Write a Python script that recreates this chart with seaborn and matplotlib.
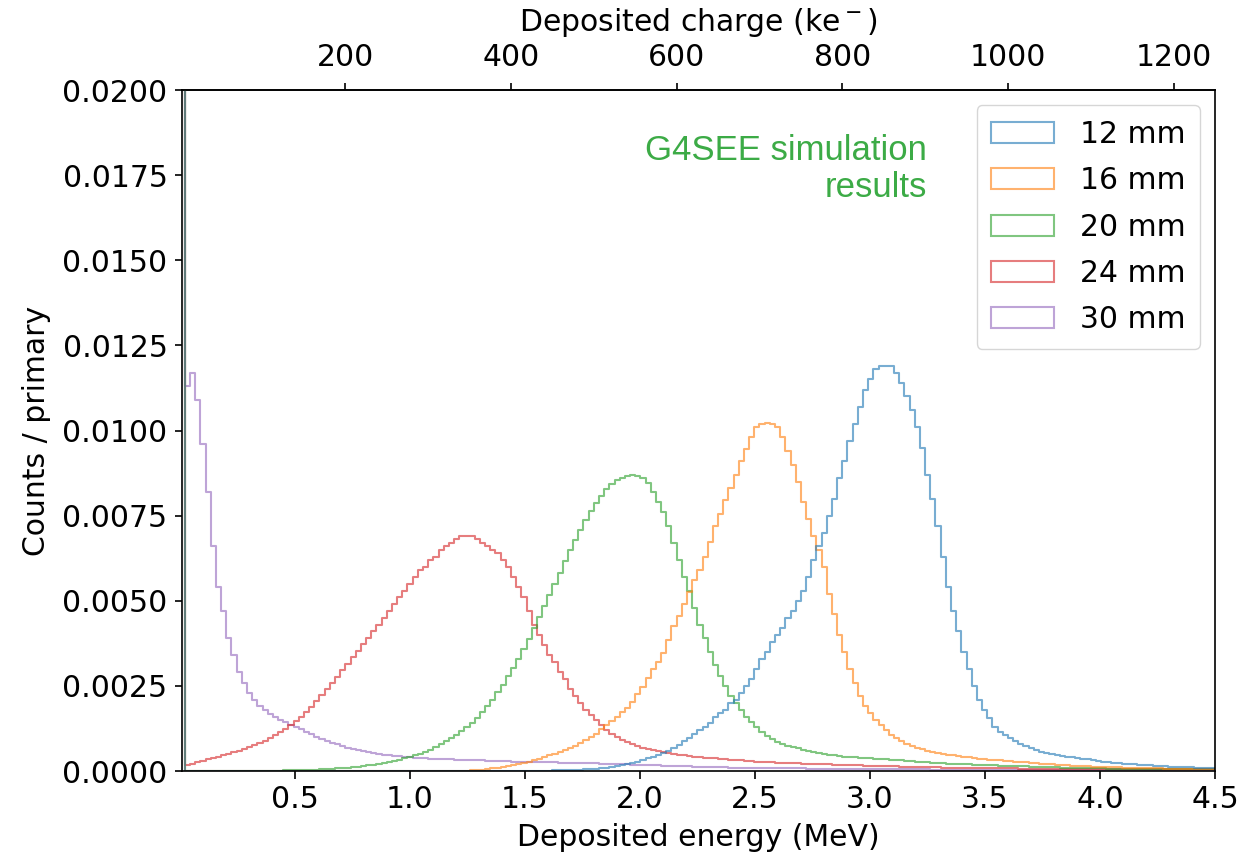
import numpy as np
import pandas as pd
import matplotlib
matplotlib.use("Agg")
import matplotlib.pyplot as plt
import seaborn as sns
from matplotlib.patches import Patch

# ---------------- data (counts / primary per 0.0225 MeV bin, 0 - 4.5 MeV) ----------------
thickness_labels = ["12 mm", "16 mm", "20 mm", "24 mm", "30 mm"]
energy_min_mev = 0.0
energy_max_mev = 4.5
n_bins = 200
charge_ticks_ke = [200, 400, 600, 800, 1000, 1200]

counts_12mm = [
    0.022, 0, 0, 0, 0, 0, 0, 0, 0, 0,
    0, 0, 0, 0, 0, 0, 0, 0, 0, 0,
    0, 0, 0, 0, 0, 0, 0, 0, 0, 0,
    0, 0, 0, 0, 0, 0, 0, 0, 0, 0,
    0, 0, 0, 0, 0, 0, 0, 0, 0, 0,
    0, 0, 0, 0, 0, 0, 0, 0, 0, 0,
    0, 0, 0, 0, 0, 0, 0, 0, 0, 0,
    0.00001, 0.00001, 0.00002, 0.00002, 0.00003, 0.00003, 0.00004, 0.00004, 0.00005, 0.00006,
    0.00007, 0.00009, 0.0001, 0.00012, 0.00015, 0.00017, 0.0002, 0.00024, 0.00028, 0.00033,
    0.00038, 0.00042, 0.00047, 0.00053, 0.0006, 0.00068, 0.00077, 0.00087, 0.00097, 0.00108,
    0.0012, 0.0013, 0.0014, 0.0016, 0.0017, 0.0018, 0.002, 0.0021, 0.0023, 0.0025,
    0.0027, 0.003, 0.0033, 0.0035, 0.0038, 0.004, 0.0042, 0.0045, 0.0047, 0.005,
    0.0053, 0.0057, 0.0062, 0.0066, 0.007, 0.0075, 0.008, 0.0086, 0.0091, 0.0097,
    0.0102, 0.0107, 0.0112, 0.0115, 0.0118, 0.0119, 0.0119, 0.0119, 0.0117, 0.0114,
    0.011, 0.0106, 0.0101, 0.0095, 0.0087, 0.008, 0.0072, 0.0063, 0.0054, 0.0047,
    0.0041, 0.0035, 0.003, 0.0025, 0.0021, 0.0018, 0.00155, 0.0013, 0.00116, 0.00105,
    0.00096, 0.00088, 0.0008, 0.00073, 0.00067, 0.00062, 0.00057, 0.00053, 0.0005, 0.00047,
    0.00044, 0.00042, 0.0004, 0.00038, 0.00036, 0.00034, 0.00032, 0.0003, 0.00028, 0.00027,
    0.00025, 0.00024, 0.00022, 0.00021, 0.0002, 0.00019, 0.00018, 0.00017, 0.00016, 0.00015,
    0.00014, 0.00013, 0.00013, 0.00012, 0.00011, 0.00011, 0.0001, 0.0001, 0.00009, 0.00009,
]

counts_16mm = [
    0.03, 0, 0, 0, 0, 0, 0, 0, 0, 0,
    0, 0, 0, 0, 0, 0, 0, 0, 0, 0,
    0, 0, 0, 0, 0, 0, 0, 0, 0, 0,
    0, 0, 0, 0, 0, 0, 0, 0, 0, 0,
    0, 0, 0, 0, 0, 0, 0, 0, 0, 0,
    0, 0, 0, 0, 0, 0.00001, 0.00002, 0.00003, 0.00004, 0.00006,
    0.00008, 0.0001, 0.00012, 0.00015, 0.00018, 0.00021, 0.00024, 0.00028, 0.00032, 0.00036,
    0.00041, 0.00046, 0.00051, 0.00056, 0.00062, 0.00068, 0.00075, 0.00083, 0.00091, 0.001,
    0.0011, 0.00122, 0.00134, 0.00147, 0.0016, 0.00172, 0.00186, 0.00203, 0.00225, 0.00248,
    0.00272, 0.003, 0.0032, 0.00348, 0.00385, 0.00425, 0.00455, 0.0049, 0.00525, 0.00562,
    0.0059, 0.0063, 0.00674, 0.0072, 0.00755, 0.00795, 0.0083, 0.0087, 0.0091, 0.00945,
    0.0098, 0.0101, 0.0102, 0.01023, 0.0102, 0.0101, 0.0098, 0.0094, 0.009, 0.0085,
    0.0079, 0.0074, 0.0069, 0.0065, 0.006, 0.0052, 0.0046, 0.004, 0.0035, 0.003,
    0.0026, 0.0022, 0.0019, 0.0017, 0.0015, 0.00135, 0.0012, 0.00107, 0.00096, 0.00087,
    0.0008, 0.00074, 0.00068, 0.00064, 0.0006, 0.00057, 0.00054, 0.00051, 0.00048, 0.00046,
    0.00044, 0.00042, 0.0004, 0.00038, 0.00036, 0.00035, 0.00033, 0.00032, 0.00031, 0.0003,
    0.00029, 0.00028, 0.00027, 0.00026, 0.00024, 0.00023, 0.00022, 0.00021, 0.0002, 0.00019,
    0.00018, 0.00017, 0.00016, 0.00015, 0.00015, 0.00014, 0.00013, 0.00013, 0.00012, 0.00012,
    0.00011, 0.00011, 0.0001, 0.0001, 0.0001, 0.00009, 0.00009, 0.00008, 0.00008, 0.00008,
    0.00007, 0.00007, 0.00007, 0.00006, 0.00006, 0.00006, 0.00006, 0.00005, 0.00005, 0.00005,
]

counts_20mm = [
    0.025, 0, 0, 0, 0, 0, 0, 0, 0, 0,
    0, 0, 0, 0, 0, 0, 0, 0.00001, 0.00001, 0.00001,
    0.00002, 0.00002, 0.00002, 0.00003, 0.00003, 0.00004, 0.00004, 0.00005, 0.00006, 0.00007,
    0.00008, 0.00009, 0.0001, 0.00012, 0.00013, 0.00015, 0.00017, 0.00019, 0.00021, 0.00024,
    0.00027, 0.0003, 0.00033, 0.00037, 0.00041, 0.00046, 0.00051, 0.00057, 0.00063, 0.0007,
    0.00078, 0.00087, 0.00096, 0.00106, 0.00117, 0.00129, 0.00142, 0.00157, 0.00173, 0.00191,
    0.0021, 0.00231, 0.00254, 0.00278, 0.00303, 0.0033, 0.00358, 0.00388, 0.00419, 0.00451,
    0.00484, 0.00517, 0.0055, 0.00583, 0.00616, 0.00648, 0.00679, 0.00709, 0.00737, 0.00763,
    0.00787, 0.00808, 0.00827, 0.00843, 0.00855, 0.00862, 0.00866, 0.00868, 0.00866, 0.0086,
    0.00845, 0.0082, 0.0079, 0.0076, 0.0072, 0.0067, 0.0062, 0.0057, 0.0053, 0.0048,
    0.0043, 0.0039, 0.0035, 0.0031, 0.0028, 0.0025, 0.0022, 0.002, 0.0018, 0.0016,
    0.00145, 0.0013, 0.00115, 0.00102, 0.00093, 0.00086, 0.0008, 0.00075, 0.00071, 0.00067,
    0.00062, 0.00059, 0.00056, 0.00053, 0.0005, 0.00048, 0.00046, 0.00043, 0.00042, 0.00041,
    0.0004, 0.00039, 0.00038, 0.00037, 0.00036, 0.00035, 0.00034, 0.00033, 0.00032, 0.00031,
    0.0003, 0.00029, 0.00028, 0.00027, 0.00026, 0.00025, 0.00024, 0.00023, 0.00022, 0.00021,
    0.00021, 0.0002, 0.0002, 0.00019, 0.00018, 0.00018, 0.00017, 0.00017, 0.00016, 0.00016,
    0.00015, 0.00015, 0.00014, 0.00014, 0.00013, 0.00013, 0.00012, 0.00012, 0.00011, 0.00011,
    0.0001, 0.0001, 0.0001, 0.00009, 0.00009, 0.00009, 0.00008, 0.00008, 0.00008, 0.00007,
    0.00007, 0.00007, 0.00007, 0.00007, 0.00006, 0.00006, 0.00006, 0.00006, 0.00006, 0.00006,
    0.00006, 0.00005, 0.00005, 0.00005, 0.00005, 0.00005, 0.00005, 0.00005, 0.00005, 0.00005,
]

counts_24mm = [
    0.035, 0.00018, 0.00022, 0.00026, 0.0003, 0.00034, 0.00038, 0.00042, 0.00046, 0.0005,
    0.00055, 0.0006, 0.00065, 0.0007, 0.00076, 0.00082, 0.00089, 0.00097, 0.00105, 0.00114,
    0.00124, 0.00135, 0.00147, 0.0016, 0.00174, 0.00189, 0.00205, 0.00222, 0.0024, 0.00258,
    0.00277, 0.00296, 0.00315, 0.00334, 0.00353, 0.00372, 0.0039, 0.0041, 0.0043, 0.0045,
    0.0047, 0.0049, 0.0051, 0.0053, 0.0055, 0.0057, 0.0059, 0.006, 0.0062, 0.0063,
    0.0065, 0.0066, 0.0067, 0.0068, 0.0069, 0.0069, 0.0069, 0.0068, 0.0067, 0.0066,
    0.0065, 0.0064, 0.0062, 0.006, 0.0057, 0.0054, 0.0051, 0.0047, 0.0043, 0.004,
    0.0037, 0.0034, 0.0032, 0.0029, 0.0027, 0.0024, 0.0022, 0.002, 0.0018, 0.00165,
    0.0015, 0.00135, 0.0012, 0.0011, 0.001, 0.00092, 0.00085, 0.00079, 0.00074, 0.00069,
    0.00065, 0.00061, 0.00058, 0.00055, 0.00052, 0.0005, 0.00048, 0.00046, 0.00044, 0.00042,
    0.00041, 0.00039, 0.00038, 0.00037, 0.00036, 0.00034, 0.00033, 0.00032, 0.00031, 0.0003,
    0.00029, 0.00028, 0.00027, 0.00027, 0.00026, 0.00025, 0.00025, 0.00024, 0.00023, 0.00023,
    0.00022, 0.00022, 0.00021, 0.00021, 0.0002, 0.0002, 0.00019, 0.00019, 0.00018, 0.00018,
    0.00017, 0.00017, 0.00016, 0.00016, 0.00015, 0.00015, 0.00014, 0.00014, 0.00014, 0.00013,
    0.00013, 0.00012, 0.00012, 0.00012, 0.00011, 0.00011, 0.00011, 0.0001, 0.0001, 0.0001,
    0.0001, 0.00009, 0.00009, 0.00009, 0.00009, 0.00009, 0.00008, 0.00008, 0.00008, 0.00008,
    0.00008, 0.00008, 0.00007, 0.00007, 0.00007, 0.00007, 0.00007, 0.00007, 0.00007, 0.00007,
    0.00007, 0.00006, 0.00006, 0.00006, 0.00006, 0.00006, 0.00006, 0.00006, 0.00006, 0.00006,
    0.00006, 0.00006, 0.00006, 0.00006, 0.00006, 0.00005, 0.00005, 0.00005, 0.00005, 0.00005,
    0.00005, 0.00005, 0.00005, 0.00005, 0.00005, 0.00005, 0.00005, 0.00005, 0.00005, 0.00005,
]

counts_30mm = [
    0.05, 0.0113, 0.0117, 0.0109, 0.0096, 0.0082, 0.0066, 0.0054, 0.0047, 0.0039,
    0.0034, 0.0029, 0.0026, 0.0023, 0.0021, 0.0019, 0.00178, 0.00167, 0.00158, 0.0015,
    0.00143, 0.00136, 0.00129, 0.00122, 0.00115, 0.00108, 0.00101, 0.00095, 0.00089, 0.00083,
    0.00078, 0.00073, 0.00069, 0.00065, 0.00061, 0.00058, 0.00055, 0.00052, 0.0005, 0.00048,
    0.00046, 0.00044, 0.00043, 0.00042, 0.0004, 0.00039, 0.00038, 0.00037, 0.00036, 0.00035,
    0.00035, 0.00034, 0.00034, 0.00033, 0.00033, 0.00032, 0.00032, 0.00031, 0.00031, 0.0003,
    0.0003, 0.00029, 0.00029, 0.00029, 0.00028, 0.00028, 0.00028, 0.00027, 0.00027, 0.00027,
    0.00026, 0.00026, 0.00026, 0.00025, 0.00025, 0.00025, 0.00024, 0.00024, 0.00024, 0.00023,
    0.00023, 0.00022, 0.00022, 0.00021, 0.00021, 0.0002, 0.0002, 0.00019, 0.00019, 0.00018,
    0.00018, 0.00017, 0.00017, 0.00016, 0.00016, 0.00015, 0.00015, 0.00014, 0.00014, 0.00013,
    0.00013, 0.00012, 0.00012, 0.00012, 0.00011, 0.00011, 0.0001, 0.0001, 0.0001, 0.0001,
    0.0001, 0.0001, 0.00009, 0.00009, 0.00009, 0.00009, 0.00008, 0.00008, 0.00008, 0.00008,
    0.00008, 0.00007, 0.00007, 0.00007, 0.00007, 0.00007, 0.00007, 0.00006, 0.00006, 0.00006,
    0.00006, 0.00006, 0.00006, 0.00006, 0.00005, 0.00005, 0.00005, 0.00005, 0.00005, 0.00005,
    0.00005, 0.00005, 0.00005, 0.00005, 0.00005, 0.00004, 0.00004, 0.00004, 0.00004, 0.00004,
    0.00004, 0.00004, 0.00004, 0.00004, 0.00004, 0.00004, 0.00004, 0.00004, 0.00004, 0.00004,
    0.00003, 0.00003, 0.00003, 0.00003, 0.00003, 0.00003, 0.00003, 0.00003, 0.00003, 0.00003,
    0.00003, 0.00003, 0.00003, 0.00003, 0.00003, 0.00003, 0.00003, 0.00003, 0.00003, 0.00003,
    0.00003, 0.00003, 0.00003, 0.00003, 0.00003, 0.00003, 0.00003, 0.00003, 0.00003, 0.00003,
    0.00003, 0.00003, 0.00003, 0.00003, 0.00003, 0.00003, 0.00003, 0.00003, 0.00003, 0.00003,
]

series = [counts_12mm, counts_16mm, counts_20mm, counts_24mm, counts_30mm]
for name, s in zip(thickness_labels, series):
    if len(s) != n_bins:
        raise ValueError(f"{name}: {len(s)} values")

edges = np.linspace(energy_min_mev, energy_max_mev, n_bins + 1)
centers = 0.5 * (edges[:-1] + edges[1:])
df = pd.concat(
    [pd.DataFrame({"energy": centers, "counts": vals, "thickness": lab})
     for lab, vals in zip(thickness_labels, series)],
    ignore_index=True,
)

# ---------------- style ----------------
plt.rcParams["font.family"] = ["DejaVu Sans"]
plt.rcParams["font.size"] = 21.5
plt.rcParams["axes.linewidth"] = 1.2
for a in ("xtick", "ytick"):
    plt.rcParams[f"{a}.major.width"] = 1.2
    plt.rcParams[f"{a}.major.size"] = 5.4
    plt.rcParams[f"{a}.major.pad"] = 5.0

colors = sns.color_palette("tab10", 5)

fig = plt.figure(figsize=(12.43, 8.59), dpi=100)
ax = fig.add_axes([0.1464, 0.1024, 0.8311, 0.7928])

sns.histplot(
    data=df, x="energy", weights="counts", hue="thickness",
    hue_order=thickness_labels, bins=edges.tolist(), element="step", fill=False,
    palette=colors, linewidth=1.5, legend=False, ax=ax,
)
for line in ax.lines:
    line.set_alpha(0.6)

ax.set_xlim(0.01, 4.5)
ax.set_ylim(0, 0.02)
ax.set_xlabel("Deposited energy (MeV)", labelpad=6)
ax.set_ylabel("Counts / primary", labelpad=8)

secax = ax.secondary_xaxis(
    "top", functions=(lambda e: e * 1000.0 / 3.6, lambda q: q * 3.6 / 1000.0)
)
secax.set_xticks(charge_ticks_ke)
secax.tick_params(axis="x", pad=7.5)
secax.set_xlabel("Deposited charge (ke$^-$)", labelpad=9)

handles = [
    Patch(facecolor="none", edgecolor=c, linewidth=1.5, alpha=0.6, label=l)
    for c, l in zip(colors, thickness_labels)
]
ax.legend(handles=handles, loc="upper right", handlelength=2.1,
          labelspacing=0.58, borderpad=0.5, handletextpad=0.85)

ax.text(0.721, 0.936, "G4SEE simulation\nresults", transform=ax.transAxes,
        ha="right", va="top", color="#3cab46", fontsize=25,
        family=["Liberation Sans", "DejaVu Sans"], linespacing=1.17)

fig.savefig("out.png", dpi=100)
